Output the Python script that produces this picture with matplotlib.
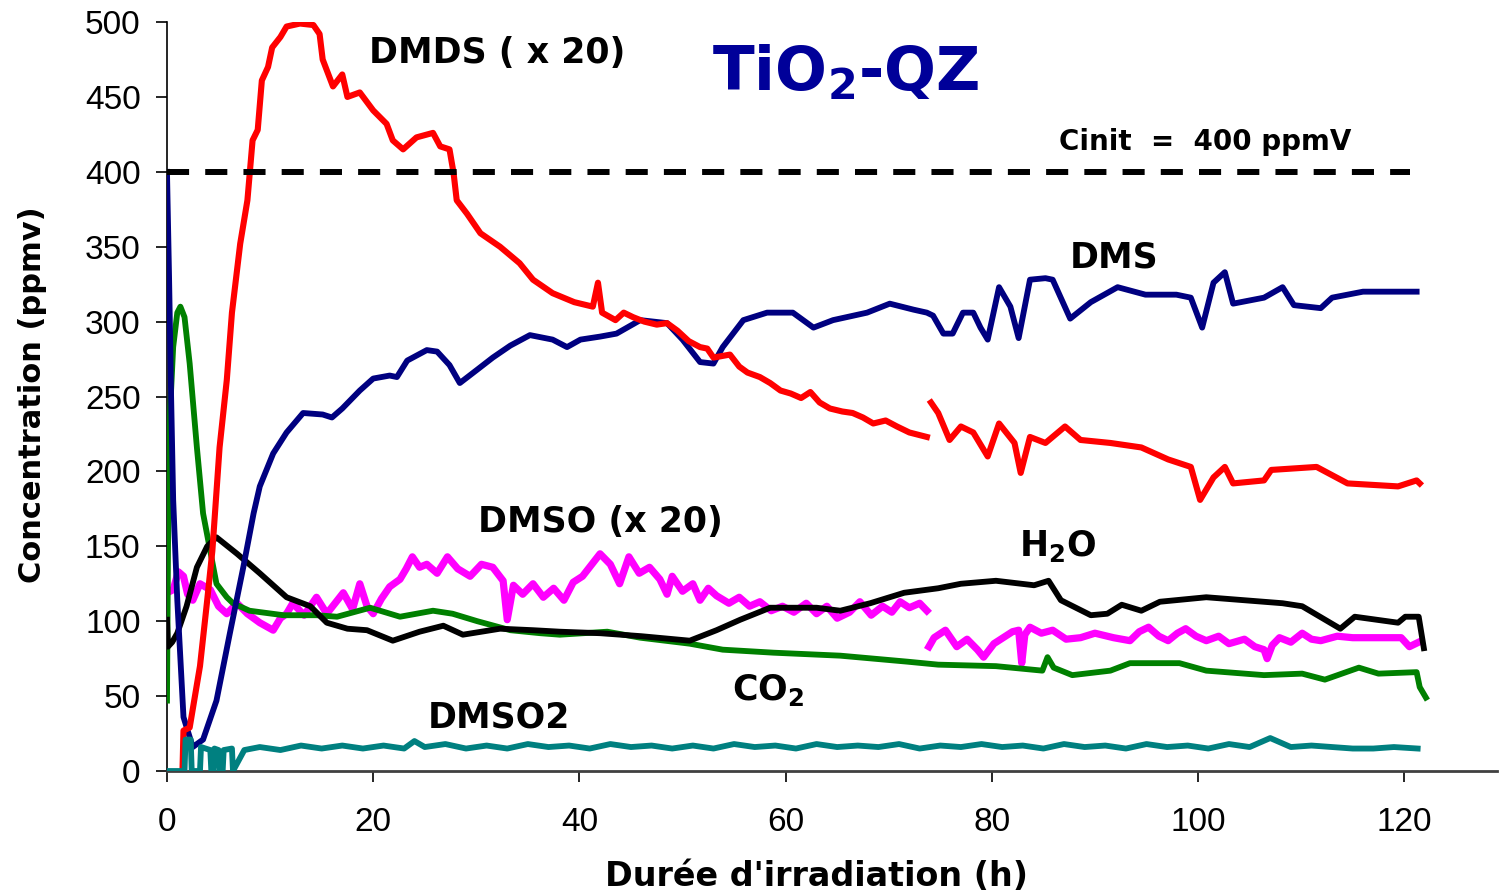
import numpy as np
import matplotlib
matplotlib.use("Agg")
import matplotlib.pyplot as plt

# --- data (time in h, concentration in ppmv) ---
dms_t = [0, 0.2, 0.4, 0.6, 1.0, 1.6, 2.5, 3.5, 4.8, 6.1, 7.4, 8.4, 9.0, 10.3, 11.6,
         13.2, 15.1, 16.0, 17.0, 18.7, 20.0, 21.6, 22.3, 23.3, 25.2, 26.2, 27.4,
         28.4, 30.1, 31.6, 33.3, 35.2, 37.4, 38.8, 40.1, 42.0, 43.6, 45.9, 48.5,
         50.0, 51.7, 53.0, 53.9, 55.9, 58.2, 60.7, 62.7, 64.6, 67.9, 70.1, 72.4,
         73.7, 74.3, 75.3, 76.2, 77.2, 78.2, 78.9, 79.6, 80.7, 81.8, 82.6, 83.7,
         85.2, 85.9, 87.6, 89.6, 92.2, 94.9, 97.9, 99.3, 100.4, 101.5, 102.6,
         103.4, 106.4, 108.2, 109.3, 111.9, 113.0, 116.0, 119.4, 121.2]
dms_c = [400, 330, 250, 181, 114, 36, 16, 21, 47, 92, 136, 172, 190, 212, 226,
         239, 238, 236, 242, 254, 262, 264, 263, 274, 281, 280, 271,
         259, 268, 276, 284, 291, 288, 283, 288, 290, 292, 301, 299,
         288, 273, 272, 283, 301, 306, 306, 296, 301, 306, 312, 308,
         306, 304, 292, 292, 306, 306, 296, 288, 323, 310, 289, 328,
         329, 328, 302, 313, 323, 318, 318, 316, 296, 326, 333,
         312, 316, 323, 311, 309, 316, 320, 320, 320]

dmds_t = [1.5, 1.6, 2.2, 3.2, 3.9, 4.4, 5.1, 5.8, 6.3, 7.1, 7.8, 8.3, 8.8, 9.2,
          9.8, 10.2, 11.0, 11.6, 12.9, 14.2, 14.8, 15.1, 16.1, 17.0, 17.5, 18.7,
          20.0, 21.3, 21.9, 22.9, 24.2, 25.8, 26.5, 27.4, 27.8, 28.1, 29.1, 30.4,
          32.3, 34.2, 35.5, 37.4, 39.5, 41.3, 41.8, 42.2, 43.5, 44.3, 45.2, 46.3,
          47.5, 48.5, 49.5, 50.6, 51.7, 52.4, 53.0, 54.6, 55.5, 56.3, 57.5, 58.5,
          59.5, 60.5, 61.5, 62.4, 63.3, 64.3, 65.5, 66.5, 67.5, 68.5, 69.7, 70.8,
          72.0, 73.7,
          np.nan,
          74.1, 74.8, 75.9, 77.0, 78.2, 79.6, 80.7, 82.2, 82.8, 83.7, 85.2, 87.1,
          88.6, 91.5, 94.5, 97.1, 99.3, 100.2, 101.5, 102.6, 103.4, 106.4, 107.1,
          111.5, 114.5, 119.4, 121.2, 121.5]
dmds_c = [0, 27, 29, 70, 114, 147, 216, 261, 306, 352, 381, 421, 428, 461,
          470, 483, 490, 497, 499, 498, 492, 475, 457, 465, 450, 453,
          441, 432, 421, 415, 423, 426, 417, 415, 399, 381, 372, 359,
          350, 339, 328, 319, 313, 310, 326, 306, 301, 306, 303, 300,
          298, 299, 294, 287, 283, 282, 276, 278, 270, 266, 263, 259,
          254, 252, 249, 253, 246, 242, 240, 239, 236, 232, 234, 230,
          226, 223,
          np.nan,
          246, 239, 221, 230, 226, 210, 232, 219, 199, 223, 219, 230,
          221, 219, 216, 208, 203, 181, 196, 203, 192, 194, 201,
          203, 192, 190, 194, 192]

co2_t = [0, 0.1, 0.3, 0.6, 1.0, 1.3, 1.7, 2.2, 2.9, 3.5, 4.8, 5.8, 6.4, 8.0,
         11.3, 14.5, 16.5, 19.7, 22.6, 25.8, 27.7, 30.1, 33.3, 36.2, 38.1, 42.7,
         45.9, 50.7, 53.9, 58.8, 65.3, 71.8, 74.8, 80.4, 84.9, 85.4, 86.0, 87.8,
         91.5, 93.4, 98.2, 100.8, 106.4, 110.1, 112.3, 115.6, 117.5, 121.2,
         121.5, 122.1]
co2_c = [47, 150, 240, 283, 306, 310, 303, 272, 216, 172, 125, 116, 112, 107,
         104, 104, 103, 109, 103, 107, 105, 100, 94, 92, 91, 93,
         89, 85, 81, 79, 77, 73, 71, 70, 67, 76, 69, 64,
         67, 72, 72, 67, 64, 65, 61, 69, 65, 66,
         56, 49]

h2o_t = [0, 0.1, 0.5, 1.0, 1.9, 2.9, 3.9, 4.8, 6.8, 9.0, 11.6, 13.9, 15.5, 17.5,
         19.4, 21.9, 24.5, 26.8, 28.7, 32.3, 35.5, 38.1, 42.0, 46.0, 50.7, 53.3,
         55.6, 58.5, 63.0, 65.3, 68.2, 71.5, 74.8, 77.0, 80.4, 84.1, 85.5, 86.7,
         89.6, 91.2, 92.6, 94.5, 96.3, 100.8, 108.2, 110.1, 113.8, 115.2, 119.4,
         120.1, 121.4, 121.9]
h2o_c = [101, 83, 86, 92, 110, 136, 150, 156, 145, 132, 116, 110, 99, 95,
         94, 87, 93, 97, 91, 95, 94, 93, 92, 90, 87, 94,
         101, 109, 109, 107, 112, 119, 122, 125, 127, 124, 127, 114,
         104, 105, 111, 107, 113, 116, 112, 110, 95, 103, 99,
         103, 103, 82]

dmso_t = [0.3, 0.6, 1.1, 1.6, 2.0, 2.5, 3.2, 4.2, 5.0, 5.8, 6.8, 7.8, 9.0, 10.3,
          11.0, 11.6, 12.2, 13.3, 14.5, 15.5, 16.3, 17.1, 18.0, 18.7, 19.4, 20.0,
          20.8, 21.6, 22.6, 23.2, 23.8, 24.5, 25.2, 26.2, 27.2, 28.2, 29.4, 30.5,
          31.6, 32.6, 33.0, 33.6, 34.5, 35.5, 36.5, 37.5, 38.5, 39.4, 40.3, 41.2,
          42.0, 43.0, 43.9, 44.8, 45.8, 46.8, 47.8, 48.5, 49.0, 50.0, 51.0, 51.7,
          52.5, 53.3, 54.5, 55.5, 56.5, 57.5, 58.6, 59.7, 60.8, 62.0, 63.0, 64.0,
          65.0, 66.2, 67.2, 68.3, 69.4, 70.3, 71.1, 72.0, 73.0, 73.7,
          np.nan,
          73.9, 74.4, 75.5, 76.6, 77.6, 78.6, 79.2, 80.2, 81.1, 82.0, 82.6, 82.9,
          83.2, 83.7, 84.8, 85.9, 87.2, 88.6, 90.0, 91.8, 93.4, 94.3, 95.2, 96.2,
          97.1, 98.0, 98.8, 99.8, 100.8, 102.0, 103.0, 104.5, 105.5, 106.4,
          106.7, 107.2, 107.9, 109.0, 110.1, 111.0, 111.9, 113.5, 115.0, 116.4,
          118.0, 119.7, 120.5, 121.4]
dmso_c = [120, 121, 133, 130, 118, 114, 125, 121, 110, 105, 112, 105, 99, 94,
          102, 105, 112, 104, 116, 105, 112, 119, 108, 125, 110, 105,
          115, 123, 128, 135, 143, 136, 138, 132, 143, 135, 130, 138,
          136, 127, 101, 124, 118, 125, 116, 122, 114, 126, 130, 138,
          145, 138, 125, 143, 132, 136, 128, 118, 130, 120, 125, 114,
          122, 117, 112, 116, 110, 113, 107, 110, 106, 112, 105, 110,
          102, 106, 113, 104, 110, 106, 113, 109, 112, 107,
          np.nan,
          83, 89, 94, 83, 88, 81, 76, 85, 89, 93, 94, 72,
          91, 96, 92, 94, 88, 89, 92, 89, 87, 93, 96, 90,
          87, 92, 95, 90, 87, 90, 85, 88, 83, 81,
          75, 84, 89, 86, 92, 88, 87, 90, 89, 89,
          89, 89, 83, 86]

dmso2_t = [0, 1.7, 1.8, 2.3, 2.4, 3.2, 3.3, 4.2, 4.3, 4.5, 4.6, 5.0, 5.1, 5.4,
           5.5, 6.3, 6.4, 7.5, 9, 11, 13, 15, 17, 19, 21, 23, 24, 25, 27, 29,
           31, 33, 35, 37, 39, 41, 43, 45, 47, 49, 51, 53, 55, 57, 59, 61, 63,
           65, 67, 69, 71, 73, 75, 77, 79, 81, 83, 85, 87, 89, 91, 93, 95, 97,
           99, 101, 103, 105, 107, 109, 111, 113, 115, 117, 119, 121.3]
dmso2_c = [0, 0, 21, 21, 0, 0, 16, 14, 0, 0, 15, 14, 0, 0,
           14, 15, 0, 14, 16, 14, 17, 15, 17, 15, 17, 15, 20, 16, 18, 15,
           17, 15, 18, 16, 17, 15, 18, 16, 17, 15, 17, 15, 18, 16, 17, 15, 18,
           16, 17, 16, 18, 15, 17, 16, 18, 16, 17, 15, 18, 16, 17, 15, 18, 16,
           17, 15, 18, 16, 22, 16, 17, 16, 15, 15, 16, 15]

cinit = 400

fig = plt.figure(figsize=(14.99, 8.96), dpi=100)
ax = fig.add_axes([0.1114, 0.1395, 0.8873, 0.8359])

ax.plot(dmso_t, dmso_c, color="#ff00ff", lw=5.2, zorder=2)
ax.plot(co2_t, co2_c, color="#008000", lw=4.2, zorder=3)
ax.plot(h2o_t, h2o_c, color="black", lw=4.2, zorder=4)
ax.plot(dms_t, dms_c, color="#000080", lw=4.2, zorder=5)
ax.plot(dmds_t, dmds_c, color="#ff0000", lw=4.4, zorder=6)
ax.plot(dmso2_t, dmso2_c, color="#008080", lw=4.2, zorder=7)

# initial concentration line
ax.plot([0, 120.6], [cinit, cinit], color="black", lw=4.3,
        dashes=(3.7, 2.7), zorder=8)

ax.set_xlim(0, 129)
ax.set_ylim(0, 500)
ax.set_xticks([0, 20, 40, 60, 80, 100, 120])
ax.set_yticks(range(0, 501, 50))

for side in ["top", "right"]:
    ax.spines[side].set_visible(False)
ax.spines["left"].set_color("black")
ax.spines["left"].set_linewidth(1.2)
ax.spines["bottom"].set_color("#404040")
ax.spines["bottom"].set_linewidth(2)

ax.tick_params(axis="y", direction="out", length=8, width=1.2, pad=11,
               labelsize=24)
ax.tick_params(axis="x", direction="out", length=8, width=1.2, pad=18,
               labelsize=24)
for lab in ax.get_xticklabels() + ax.get_yticklabels():
    lab.set_family("Liberation Sans")

bold = dict(fontweight="bold", family="DejaVu Sans", color="black",
            ha="center", va="center")
plt.rcParams["mathtext.fontset"] = "dejavusans"

ax.text(32.0, 479, "DMDS ( x 20)", fontsize=25, **bold)
ax.text(91.9, 343, "DMS", fontsize=25, **bold)
ax.text(42.0, 166, "DMSO (x 20)", fontsize=25, **bold)
ax.text(86.4, 150, r"H$_\mathbf{2}$O", fontsize=25, **bold)
ax.text(58.3, 54, r"CO$_\mathbf{2}$", fontsize=25, **bold)
ax.text(32.2, 36, "DMSO2", fontsize=25, **bold)
ax.text(100.7, 420, "Cinit  =  400 ppmV", fontsize=20, **bold)
ax.text(65.8, 466, r"TiO$_\mathbf{2}$-QZ", fontsize=44, fontweight="bold",
        family="DejaVu Sans", color="#000099", ha="center", va="center")

fig.text(0.545, 0.022, "Durée d'irradiation (h)", fontsize=24,
         fontweight="bold", ha="center", va="center")
fig.text(0.022, 0.559, "Concentration (ppmv)", fontsize=22,
         fontweight="bold", rotation=90, ha="center", va="center")

fig.savefig("out.png", dpi=100)
